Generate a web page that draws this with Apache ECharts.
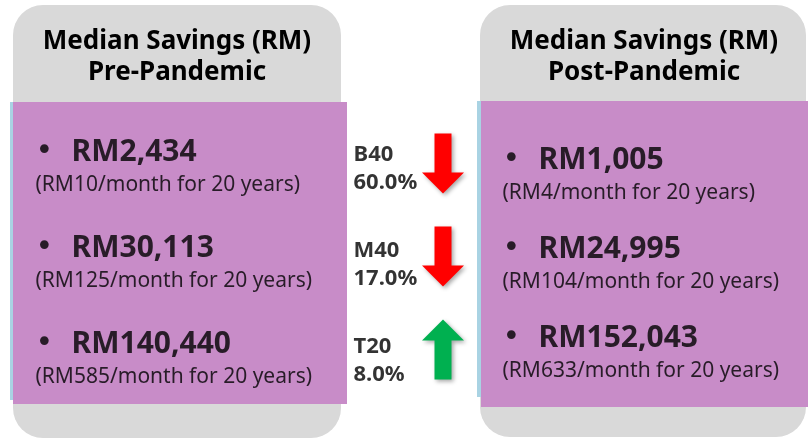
<!DOCTYPE html>
<html>
<head>
<meta charset="utf-8">
<script src="https://cdn.jsdelivr.net/npm/echarts@6/dist/echarts.min.js"></script>
<style>
  html, body { margin: 0; padding: 0; background: #fff; }
  #main { width: 808px; height: 440px; }
</style>
</head>
<body>
<div id="main"></div>
<script>
// income groups
const tiers = ['B40', 'M40', 'T20'];
// median savings (RM)
const preSavings = [2434, 30113, 140440];
const preMonthly = [10, 125, 585];
const postSavings = [1005, 24995, 152043];
const postMonthly = [4, 104, 633];
// change between the two, percent (negative = drop)
const changePct = [-60.0, -17.0, 8.0];

const FONT = '"Noto Sans", "DejaVu Sans", sans-serif';
const GRAY = '#d9d9d9';
const PURPLE = '#c88cc8';
const STRIPE = '#a9d3e3';
const INK = '#000';
const ARROW = 'path://M21,0L42,21L29.5,21L29.5,60L12.5,60L12.5,21L0,21Z';

var chart = echarts.init(document.getElementById('main'));

function savingsLabel(values, monthly) {
    return function (p) {
        var i = p.dataIndex;
        return '{b|•}{v|RM' + echarts.format.addCommas(values[i]) + '}\n' +
            '{s|(RM' + monthly[i] + '/month for 20 years)}';
    };
}
var savingsRich = {
    b: { fontFamily: 'DejaVu Sans', fontSize: 30, color: INK, width: 36, lineHeight: 33 },
    v: { fontFamily: FONT, fontSize: 30, fontWeight: 'bold', color: INK, lineHeight: 33 },
    s: { fontFamily: FONT, fontSize: 21, color: INK, lineHeight: 33 }
};

function points() {
    return tiers.map(function (t) { return [0, t]; });
}

// one grid per column of the layout
var grids = [
    { left: 35, width: 300, top: 121, height: 288 },   // pre-pandemic
    { left: 353, width: 60, top: 121, height: 288 },   // change text
    { left: 443, width: 30, top: 117, height: 279 },   // arrows
    { left: 502, width: 300, top: 132, height: 267 }   // post-pandemic
];

function textSeries(gridIdx, data, formatter, rich) {
    return {
        type: 'scatter',
        xAxisIndex: gridIdx,
        yAxisIndex: gridIdx,
        data: data,
        symbolSize: 1,
        itemStyle: { color: 'rgba(0,0,0,0)' },
        silent: true,
        label: {
            show: true,
            position: 'right',
            distance: 0,
            align: 'left',
            formatter: formatter,
            rich: rich
        }
    };
}

chart.setOption({
    animation: false,
    grid: grids,
    xAxis: grids.map(function (g, i) {
        return { type: 'value', min: 0, max: 1, show: false, gridIndex: i };
    }),
    yAxis: grids.map(function (g, i) {
        return { type: 'category', data: tiers, inverse: true, show: false, gridIndex: i };
    }),
    graphic: [
        { type: 'rect', z: -10, shape: { x: 13, y: 5, width: 328, height: 433, r: 30 }, style: { fill: GRAY } },
        { type: 'rect', z: -9, shape: { x: 13, y: 102, width: 334, height: 302 }, style: { fill: PURPLE } },
        { type: 'rect', z: -9, shape: { x: 10, y: 102, width: 3, height: 298 }, style: { fill: STRIPE } },
        { type: 'rect', z: -10, shape: { x: 480, y: 5, width: 326, height: 432, r: 30 }, style: { fill: GRAY } },
        { type: 'rect', z: -9, shape: { x: 481, y: 101, width: 327, height: 306 }, style: { fill: PURPLE } },
        { type: 'rect', z: -9, shape: { x: 477, y: 101, width: 4, height: 296 }, style: { fill: STRIPE } },
        {
            type: 'text', x: 177, y: 57,
            style: {
                text: 'Median Savings (RM)\nPre-Pandemic', fill: INK,
                font: 'bold 26px ' + FONT, lineHeight: 31,
                align: 'center', verticalAlign: 'middle',
                textAlign: 'center', textVerticalAlign: 'middle'
            }
        },
        {
            type: 'text', x: 644, y: 57,
            style: {
                text: 'Median Savings (RM)\nPost-Pandemic', fill: INK,
                font: 'bold 26px ' + FONT, lineHeight: 31,
                align: 'center', verticalAlign: 'middle',
                textAlign: 'center', textVerticalAlign: 'middle'
            }
        }
    ],
    series: [
        textSeries(0, points(), savingsLabel(preSavings, preMonthly), savingsRich),
        textSeries(1, points(), function (p) {
            return '{t|' + tiers[p.dataIndex] + '}\n{t|' + Math.abs(changePct[p.dataIndex]).toFixed(1) + '%}';
        }, {
            t: { fontFamily: FONT, fontSize: 22, fontWeight: 'bold', color: INK, lineHeight: 28 }
        }),
        {
            type: 'scatter',
            xAxisIndex: 2,
            yAxisIndex: 2,
            silent: true,
            symbol: ARROW,
            symbolSize: [42, 60],
            data: changePct.map(function (v, i) {
                return {
                    value: [0, tiers[i]],
                    symbolRotate: v < 0 ? 180 : 0,
                    itemStyle: { color: v < 0 ? '#ff0000' : '#00b050' }
                };
            }),
            itemStyle: {
                opacity: 1,
                shadowBlur: 4,
                shadowColor: 'rgba(0,0,0,0.35)',
                shadowOffsetX: 2,
                shadowOffsetY: 2
            }
        },
        textSeries(3, points(), savingsLabel(postSavings, postMonthly), savingsRich)
    ]
});
</script>
</body>
</html>
